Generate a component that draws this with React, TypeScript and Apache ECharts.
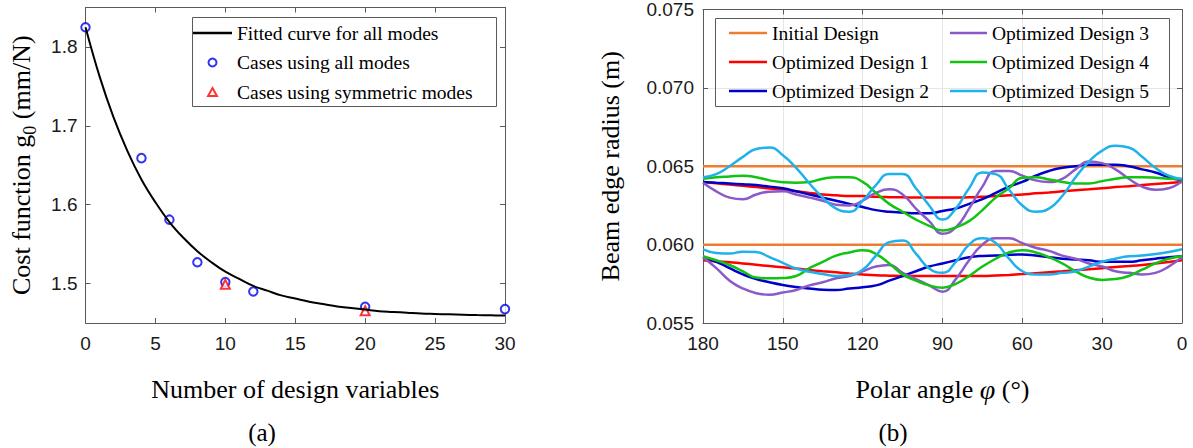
import React, { useEffect, useRef } from "react";
import * as echarts from "echarts";

// ---------- (a) Cost function vs number of design variables ----------
const allModesVars = [0, 4, 6, 8, 10, 12, 20, 30];
const allModesCost = [1.825, 1.659, 1.581, 1.527, 1.502, 1.49, 1.4706, 1.4676];
const symModesVars = [10, 20];
const symModesCost = [1.499, 1.4656];
const fitVars = [
  0, 1, 2, 3, 4, 5, 6, 7, 8, 9, 10, 11, 12, 13, 14, 15, 16, 17, 18, 19, 20, 21,
  22, 23, 24, 25, 26, 27, 28, 29, 30,
];
const fitCost = [
  1.825, 1.763, 1.711, 1.668, 1.632, 1.603, 1.578, 1.558, 1.541, 1.527, 1.515,
  1.506, 1.497, 1.491, 1.485, 1.481, 1.477, 1.474, 1.471, 1.469, 1.467, 1.465,
  1.464, 1.463, 1.462, 1.4615, 1.461, 1.4605, 1.46, 1.4597, 1.4594,
];
const costTicks = [1.5, 1.6, 1.7, 1.8];

// ---------- (b) Beam edge radius vs polar angle ----------
const angles = [
  180, 175, 170, 165, 160, 155, 150, 145, 140, 135, 130, 125, 120, 115, 110, 105,
  100, 95, 90, 85, 80, 75, 70, 65, 60, 55, 50, 45, 40, 35, 30, 25, 20, 15, 10, 5, 0,
];
const initialAngles = [180, 0];
const initialUpper = [0.065, 0.065];
const initialLower = [0.06, 0.06];
const d1Upper = [
  0.064, 0.06392, 0.06383, 0.06375, 0.06367, 0.06358, 0.0635, 0.0634, 0.0633,
  0.0632, 0.06315, 0.0631, 0.0631, 0.06305, 0.06303, 0.06302, 0.063, 0.063, 0.063,
  0.063, 0.06302, 0.06305, 0.0631, 0.06315, 0.0632, 0.06327, 0.06333, 0.0634,
  0.06347, 0.06353, 0.0636, 0.06367, 0.06373, 0.0638, 0.06387, 0.06393, 0.064,
];
const d1Lower = [
  0.059, 0.05893, 0.05887, 0.0588, 0.05872, 0.05863, 0.05855, 0.05847, 0.05838,
  0.0583, 0.05823, 0.05816, 0.0581, 0.05805, 0.05802, 0.058, 0.058, 0.058, 0.058,
  0.058, 0.058, 0.058, 0.05803, 0.05807, 0.05812, 0.05818, 0.05824, 0.0583,
  0.05837, 0.05843, 0.0585, 0.05857, 0.05863, 0.0587, 0.05879, 0.05889, 0.059,
];
const d2Upper = [
  0.064, 0.06395, 0.0639, 0.06385, 0.0638, 0.0637, 0.0636, 0.0634, 0.0632, 0.063,
  0.0628, 0.0626, 0.0624, 0.0622, 0.0621, 0.06205, 0.062, 0.062, 0.06215, 0.0623,
  0.0626, 0.0629, 0.0633, 0.0637, 0.064, 0.0644, 0.0647, 0.0649, 0.065, 0.0651,
  0.0651, 0.0651, 0.065, 0.0648, 0.0646, 0.0643, 0.0641,
];
const d2Lower = [
  0.0592, 0.0589, 0.0585, 0.0581, 0.0578, 0.0576, 0.05743, 0.0573, 0.0572,
  0.05712, 0.0571, 0.0572, 0.05728, 0.0574, 0.0577, 0.058, 0.0583, 0.0586, 0.0588,
  0.059, 0.0592, 0.05928, 0.0593, 0.05935, 0.05937, 0.0593, 0.0592, 0.0591,
  0.05905, 0.059, 0.0589, 0.0589, 0.0589, 0.059, 0.0591, 0.0592, 0.05926,
];
const d3Upper = [
  0.06395, 0.0634, 0.063, 0.0629, 0.0632, 0.06338, 0.0634, 0.0632, 0.063, 0.0628,
  0.06255, 0.0625, 0.0628, 0.0633, 0.06353, 0.0632, 0.0623, 0.0615, 0.0607,
  0.0611, 0.0623, 0.0637, 0.0647, 0.0647, 0.0644, 0.0641, 0.064, 0.0642, 0.0648,
  0.0653, 0.0652, 0.0648, 0.0642, 0.0637, 0.0635, 0.0636, 0.06405,
];
const d3Lower = [
  0.0592, 0.0585, 0.0577, 0.0572, 0.0569, 0.0568, 0.05695, 0.0571, 0.0574,
  0.0576, 0.05785, 0.058, 0.0583, 0.0586, 0.0587, 0.0582, 0.0578, 0.0574, 0.057,
  0.0578, 0.059, 0.06, 0.0604, 0.0604, 0.0601, 0.0598, 0.0596, 0.0593, 0.0591,
  0.0588, 0.0586, 0.0583, 0.0582, 0.0581, 0.0582, 0.0586, 0.0592,
];
const d4Upper = [
  0.0642, 0.0643, 0.06435, 0.0644, 0.0643, 0.0641, 0.06398, 0.06395, 0.064,
  0.0642, 0.0643, 0.0643, 0.064, 0.0633, 0.0626, 0.0621, 0.0616, 0.0612, 0.0609,
  0.0611, 0.0615, 0.0622, 0.063, 0.0636, 0.06427, 0.0643, 0.06416, 0.064, 0.0639,
  0.0639, 0.06405, 0.0642, 0.0643, 0.0643, 0.06427, 0.0642, 0.06416,
];
const d4Lower = [
  0.05926, 0.059, 0.0587, 0.0583, 0.0579, 0.05785, 0.05787, 0.058, 0.0585,
  0.0589, 0.0593, 0.0595, 0.05964, 0.0594, 0.0588, 0.0581, 0.0577, 0.0574,
  0.05725, 0.0575, 0.058, 0.0586, 0.0591, 0.0595, 0.05964, 0.0595, 0.0592,
  0.0588, 0.0583, 0.0579, 0.05775, 0.0578, 0.058, 0.0584, 0.0588, 0.0591, 0.05926,
];
const d5Upper = [
  0.0643, 0.0645, 0.065, 0.0656, 0.0661, 0.0662, 0.0657, 0.0649, 0.0639, 0.063,
  0.0623, 0.0621, 0.0628, 0.0638, 0.0645, 0.0645, 0.0636, 0.0625, 0.0616, 0.0623,
  0.0636, 0.0646, 0.0645, 0.0635, 0.0625, 0.0621, 0.0623, 0.0631, 0.0643, 0.0653,
  0.066, 0.0663, 0.0662, 0.0656, 0.0649, 0.0644, 0.0642,
];
const d5Lower = [
  0.0597, 0.05947, 0.05943, 0.05955, 0.05953, 0.0592, 0.05884, 0.05848, 0.05827,
  0.05813, 0.058, 0.05806, 0.0584, 0.0593, 0.06016, 0.06027, 0.05943, 0.05848,
  0.0582, 0.0589, 0.06, 0.0604, 0.0601, 0.0591, 0.0583, 0.0581, 0.0581, 0.0582,
  0.0583, 0.0586, 0.0589, 0.0591, 0.05926, 0.0593, 0.0594, 0.05953, 0.0597,
];
const radiusTicks = [0.055, 0.06, 0.065, 0.07, 0.075];

const designNames = [
  "Initial Design",
  "Optimized Design 1",
  "Optimized Design 2",
  "Optimized Design 3",
  "Optimized Design 4",
  "Optimized Design 5",
];
const designColors = ["#EF7D31", "#FF0000", "#0000C8", "#8C5AC8", "#12C312", "#1FB1EA"];

const SERIF = "'Liberation Serif', 'Times New Roman', serif";
const SANS = "'Liberation Sans', Arial, sans-serif";
const AXIS_COLOR = "#5a5a5a";
const LINE_ICON = "path://M0,0H40V2.6H0Z";

const pairs = (xs: number[], ys: number[]) => xs.map((x, i) => [x, ys[i]]);

export default function App() {
  const ref = useRef<HTMLDivElement>(null);

  useEffect(() => {
    if (!ref.current) return;
    const chart = echarts.init(ref.current, undefined, { renderer: "svg" });

    const axisLine = { show: true, onZero: false, lineStyle: { color: AXIS_COLOR, width: 1 } };
    const axisTick = { show: true, inside: true, length: 5, lineStyle: { color: AXIS_COLOR } };
    const tickLabel = { fontFamily: SANS, fontSize: 19, color: "#1a1a1a" };

    const radiusSets = [
      [initialUpper, initialLower],
      [d1Upper, d1Lower],
      [d2Upper, d2Lower],
      [d3Upper, d3Lower],
      [d4Upper, d4Lower],
      [d5Upper, d5Lower],
    ];
    const rightSeries: any[] = [];
    radiusSets.forEach((set, k) => {
      set.forEach((vals) => {
        const xs = k === 0 ? initialAngles : angles;
        rightSeries.push({
          type: "line",
          name: designNames[k],
          xAxisIndex: 2,
          yAxisIndex: 2,
          data: pairs(xs, vals),
          smooth: k === 0 ? false : 0.5,
          symbol: "none",
          color: designColors[k],
          lineStyle: { color: designColors[k], width: 2.5 },
          z: 3,
        });
      });
    });

    const legendText = { fontFamily: SERIF, fontSize: 19.5, color: "#000", lineHeight: 20 };

    const option: any = {
      animation: false,
      backgroundColor: "#ffffff",
      grid: [
        { left: 85.5, top: 7.5, width: 419.5, height: 315.5 },
        { left: 703, top: 7.5, width: 479, height: 315.5 },
      ],
      xAxis: [
        {
          gridIndex: 0,
          type: "value",
          min: 0,
          max: 30,
          interval: 5,
          axisLine,
          axisTick,
          splitLine: { show: false },
          axisLabel: { ...tickLabel, margin: 11 },
          name: "Number of design variables",
          nameLocation: "middle",
          nameGap: 53,
          nameTextStyle: { fontFamily: SERIF, fontSize: 26, color: "#000" },
        },
        {
          gridIndex: 0,
          type: "value",
          position: "top",
          min: 0,
          max: 30,
          interval: 5,
          axisLine,
          axisTick,
          splitLine: { show: false },
          axisLabel: { show: false },
        },
        {
          gridIndex: 1,
          type: "value",
          inverse: true,
          min: 0,
          max: 180,
          interval: 30,
          axisLine,
          axisTick,
          splitLine: { show: true, lineStyle: { color: "#e6e6e6", width: 1 } },
          axisLabel: { ...tickLabel, margin: 11 },
          name: "{a|Polar angle }{i|φ}{a| (°)}",
          nameLocation: "middle",
          nameGap: 52,
          nameTextStyle: {
            fontFamily: SERIF,
            fontSize: 26,
            color: "#000",
            rich: {
              a: { fontFamily: SERIF, fontSize: 26, color: "#000" },
              i: { fontFamily: SERIF, fontSize: 28, fontStyle: "italic", color: "#000" },
            },
          },
        },
        {
          gridIndex: 1,
          type: "value",
          inverse: true,
          position: "top",
          min: 0,
          max: 180,
          interval: 30,
          axisLine,
          axisTick,
          splitLine: { show: false },
          axisLabel: { show: false },
        },
      ],
      yAxis: [
        {
          gridIndex: 0,
          type: "value",
          min: 1.45,
          max: 1.85,
          axisLine,
          axisTick: { ...axisTick, customValues: costTicks },
          splitLine: { show: false },
          axisLabel: {
            ...tickLabel,
            margin: 8,
            customValues: costTicks,
            formatter: (v: number) => v.toFixed(1),
          },
          name: "{a|Cost function g}{s|0}{a| (mm/N)}",
          nameLocation: "middle",
          nameGap: 47,
          nameTextStyle: {
            fontFamily: SERIF,
            fontSize: 26,
            color: "#000",
            rich: {
              a: { fontFamily: SERIF, fontSize: 26, color: "#000", verticalAlign: "top" },
              s: {
                fontFamily: SERIF,
                fontSize: 18,
                color: "#000",
                verticalAlign: "top",
                padding: [12, 0, 0, 0],
              },
            },
          },
        },
        {
          gridIndex: 0,
          type: "value",
          position: "right",
          min: 1.45,
          max: 1.85,
          axisLine,
          axisTick: { ...axisTick, customValues: costTicks },
          splitLine: { show: false },
          axisLabel: { show: false, customValues: costTicks },
        },
        {
          gridIndex: 1,
          type: "value",
          min: 0.055,
          max: 0.075,
          interval: 0.005,
          axisLine,
          axisTick: { ...axisTick, customValues: radiusTicks },
          splitLine: { show: true, lineStyle: { color: "#e6e6e6", width: 1 } },
          axisLabel: {
            ...tickLabel,
            margin: 9,
            customValues: radiusTicks,
            formatter: (v: number) => v.toFixed(3),
          },
          name: "Beam edge radius (m)",
          nameLocation: "middle",
          nameGap: 80,
          nameTextStyle: { fontFamily: SERIF, fontSize: 26, color: "#000" },
        },
        {
          gridIndex: 1,
          type: "value",
          position: "right",
          min: 0.055,
          max: 0.075,
          interval: 0.005,
          axisLine,
          axisTick: { ...axisTick, customValues: radiusTicks },
          splitLine: { show: false },
          axisLabel: { show: false, customValues: radiusTicks },
        },
      ],
      legend: [
        {
          orient: "vertical",
          left: 193,
          top: 23,
          padding: 0,
          itemGap: 9.5,
          itemWidth: 39,
          itemHeight: 8,
          selectedMode: false,
          textStyle: legendText,
          data: [
            { name: "Fitted curve for all modes", icon: LINE_ICON },
            { name: "Cases using all modes", icon: "emptyCircle" },
            { name: "Cases using symmetric modes", icon: "emptyPath://M5,0L10,9L0,9Z" },
          ],
        },
        {
          orient: "vertical",
          left: 729,
          top: 23,
          padding: 0,
          itemGap: 9,
          itemWidth: 38,
          itemHeight: 14,
          selectedMode: false,
          textStyle: legendText,
          data: designNames.slice(0, 3).map((n) => ({ name: n, icon: LINE_ICON })),
        },
        {
          orient: "vertical",
          left: 950,
          top: 23,
          padding: 0,
          itemGap: 9,
          itemWidth: 37,
          itemHeight: 14,
          selectedMode: false,
          textStyle: legendText,
          data: designNames.slice(3).map((n) => ({ name: n, icon: LINE_ICON })),
        },
      ],
      graphic: [
        {
          type: "rect",
          left: 192,
          top: 17,
          shape: { width: 304, height: 89 },
          style: { fill: "rgba(255,255,255,0)", stroke: AXIS_COLOR, lineWidth: 1 },
          z: 10,
        },
        {
          type: "rect",
          left: 715,
          top: 18,
          shape: { width: 454, height: 88 },
          style: { fill: "rgba(255,255,255,0)", stroke: AXIS_COLOR, lineWidth: 1 },
          z: 10,
        },
        {
          type: "text",
          x: 262,
          y: 432,
          style: {
            text: "(a)",
            fontFamily: SERIF,
            fontSize: 25,
            fill: "#000",
            align: "center",
            verticalAlign: "middle",
          },
        },
        {
          type: "text",
          x: 893,
          y: 432,
          style: {
            text: "(b)",
            fontFamily: SERIF,
            fontSize: 25,
            fill: "#000",
            align: "center",
            verticalAlign: "middle",
          },
        },
      ],
      series: [
        {
          type: "scatter",
          name: "Cases using all modes",
          xAxisIndex: 0,
          yAxisIndex: 0,
          data: pairs(allModesVars, allModesCost),
          symbol: "emptyCircle",
          symbolSize: 8.5,
          itemStyle: { color: "#0000EE" },
          z: 2,
        },
        {
          type: "scatter",
          name: "Cases using symmetric modes",
          xAxisIndex: 0,
          yAxisIndex: 0,
          data: pairs(symModesVars, symModesCost),
          symbol: "emptyTriangle",
          symbolSize: 9,
          itemStyle: { color: "#FF0000" },
          z: 2,
        },
        {
          type: "line",
          name: "Fitted curve for all modes",
          xAxisIndex: 0,
          yAxisIndex: 0,
          data: pairs(fitVars, fitCost),
          smooth: 0.4,
          symbol: "none",
          color: "#000000",
          lineStyle: { color: "#000000", width: 2 },
          z: 3,
        },
        ...rightSeries,
      ],
    };

    chart.setOption(option);
    return () => chart.dispose();
  }, []);

  return (
    <div
      ref={ref}
      style={{ position: "fixed", left: 0, top: 0, width: 1193, height: 448, background: "#fff" }}
    />
  );
}
